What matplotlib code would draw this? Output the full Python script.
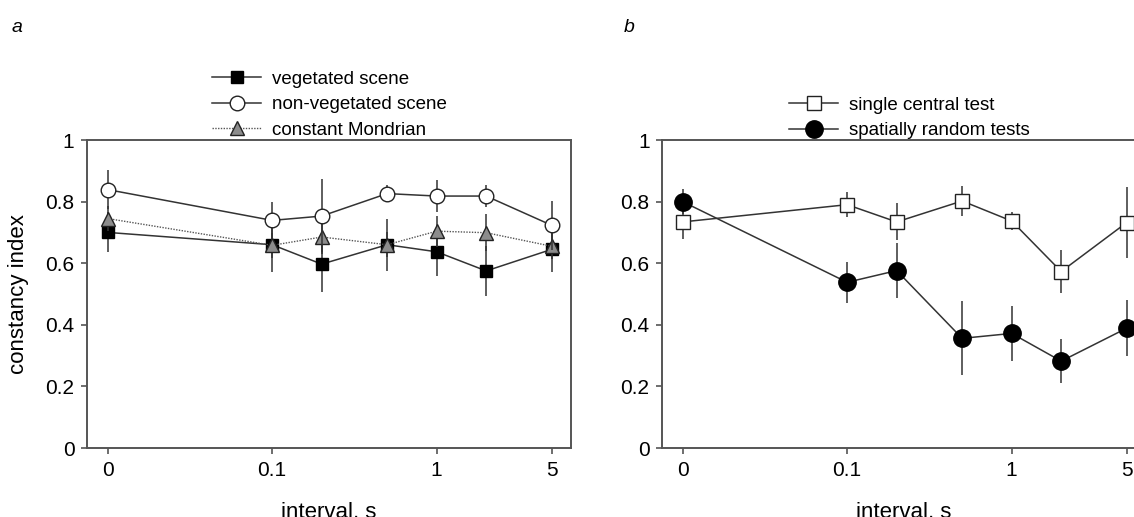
import matplotlib
matplotlib.use("Agg")
import matplotlib.pyplot as plt
from matplotlib.lines import Line2D
from matplotlib.ticker import NullLocator, FixedLocator, FixedFormatter

plt.rcParams['font.family'] = ['Liberation Sans', 'DejaVu Sans']

# interval (s); "0" is drawn at 0.01 on the log axis
intervals = [0.01, 0.1, 0.2, 0.5, 1, 2, 5]
tick_pos = [0.01, 0.1, 1, 5]
tick_labels = ["0", "0.1", "1", "5"]

# panel a
veg = [0.70, 0.66, 0.597, 0.66, 0.637, 0.575, 0.645]
veg_err = [0.065, 0.09, 0.09, 0.085, 0.08, 0.08, 0.075]
nonveg = [0.839, 0.739, 0.753, 0.826, 0.818, 0.818, 0.723]
nonveg_err = [0.063, 0.06, 0.122, 0.027, 0.052, 0.037, 0.08]
mondrian = [0.745, 0.658, 0.685, 0.66, 0.704, 0.699, 0.655]
mondrian_err = [0.04, 0.04, 0.05, 0.04, 0.05, 0.06, 0.04]

# panel b
central = [0.734, 0.79, 0.734, 0.802, 0.737, 0.573, 0.732]
central_err = [0.055, 0.04, 0.06, 0.05, 0.03, 0.07, 0.115]
random_t = [0.80, 0.538, 0.576, 0.356, 0.372, 0.282, 0.389]
random_err = [0.04, 0.066, 0.09, 0.12, 0.09, 0.072, 0.09]

W, H = 1134, 517
fig = plt.figure(figsize=(W / 100, H / 100), dpi=100)

LC = "#333333"
SP = "#555555"


def style(ax):
    ax.set_xscale("log")
    ax.set_xlim(0.0075, 6.55)
    ax.set_ylim(0, 1)
    ax.xaxis.set_major_locator(FixedLocator(tick_pos))
    ax.xaxis.set_major_formatter(FixedFormatter(tick_labels))
    ax.xaxis.set_minor_locator(NullLocator())
    ax.set_yticks([0, 0.2, 0.4, 0.6, 0.8, 1])
    ax.set_yticklabels(["0", "0.2", "0.4", "0.6", "0.8", "1"])
    ax.tick_params(length=4, width=1.2, color=SP, labelsize=15, pad=5)
    for s in ax.spines.values():
        s.set_color(SP)
        s.set_linewidth(1.4)
    ax.set_xlabel("interval, s", fontsize=16, labelpad=16)


ax1 = fig.add_axes([87 / W, 1 - 448 / H, 484 / W, 308 / H])
ax2 = fig.add_axes([662 / W, 1 - 448 / H, 484 / W, 308 / H])
style(ax1)
style(ax2)

eb = dict(elinewidth=1.1, ecolor=LC, capsize=0)
sty_veg = dict(color=LC, lw=1.1, marker="s", ms=8, mfc="black", mec="black")
sty_mon = dict(color="#555555", ls=(0, (1, 1)), lw=1, marker="^", ms=10,
               mfc="#8c8c8c", mec="#222222", mew=1)
sty_non = dict(color=LC, lw=1.1, marker="o", ms=10.5, mfc="white", mec="#222222", mew=1)
sty_cen = dict(color=LC, lw=1.1, marker="s", ms=10, mfc="white", mec="#222222", mew=1)
sty_ran = dict(color=LC, lw=1.1, marker="o", ms=12.5, mfc="black", mec="black")

ax1.errorbar(intervals, veg, yerr=veg_err, zorder=2, **sty_veg, **eb)
ax1.errorbar(intervals, mondrian, yerr=mondrian_err, zorder=3, **sty_mon, **eb)
ax1.errorbar(intervals, nonveg, yerr=nonveg_err, zorder=4, **sty_non, **eb)
ax1.set_ylabel("constancy index", fontsize=16, labelpad=12)

ax2.errorbar(intervals, central, yerr=central_err, zorder=3, **sty_cen, **eb)
ax2.errorbar(intervals, random_t, yerr=random_err, zorder=4, **sty_ran, **eb)

leg_kw = dict(loc="upper left", frameon=False, fontsize=13.5, handlelength=2.6,
              handletextpad=0.6, labelspacing=0.45, borderpad=0)
fig.legend([Line2D([], [], **sty_veg), Line2D([], [], **sty_non), Line2D([], [], **sty_mon)],
           ["vegetated scene", "non-vegetated scene", "constant Mondrian"],
           bbox_to_anchor=(203 / W, 1 - 61 / H), **leg_kw)
fig.legend([Line2D([], [], **sty_cen), Line2D([], [], **sty_ran)],
           ["single central test", "spatially random tests"],
           bbox_to_anchor=(780 / W, 1 - 87 / H), **leg_kw)

fig.text(12 / W, 1 - 28 / H, "a", fontsize=14, style="italic", va="center")
fig.text(624 / W, 1 - 28 / H, "b", fontsize=14, style="italic", va="center")

fig.savefig("out.png", dpi=100)
